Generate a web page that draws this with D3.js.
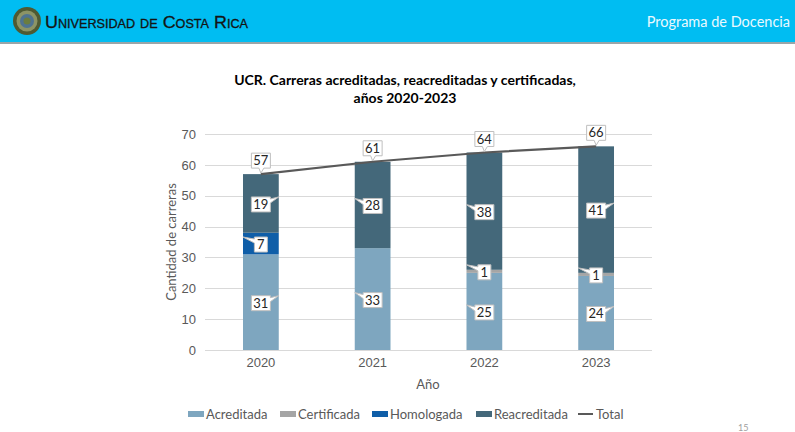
<!DOCTYPE html>
<html>
<head>
<meta charset="utf-8">
<script src="https://cdn.jsdelivr.net/npm/d3@7"></script>
<style>
  html, body { margin: 0; padding: 0; background: #fff; }
  svg { display: block; font-family: Lato, "Open Sans", sans-serif; }
  .grid line { stroke: #d9d9d9; stroke-width: 1; }
  .tick-label { fill: #595959; font-size: 13px; }
  .callout path { fill: #fff; stroke: #bfbfbf; stroke-width: 1; }
  .callout text { fill: #262626; font-size: 13px; }
</style>
</head>
<body>
<script>
  // datos
  const years = ['2020', '2021', '2022', '2023'];
  const acreditada = [31, 33, 25, 24];
  const certificada = [0, 0, 1, 1];
  const homologada = [7, 0, 0, 0];
  const reacreditada = [19, 28, 38, 41];
  const total = [57, 61, 64, 66];
  const yTicks = [0, 10, 20, 30, 40, 50, 60, 70];

  const seriesNames = ['Acreditada', 'Certificada', 'Homologada', 'Reacreditada'];
  const seriesValues = [acreditada, certificada, homologada, reacreditada];
  const colors = ['#7ea6bf', '#a5a5a5', '#0f5ea8', '#44687a'];
  // lado del puntero de cada etiqueta (por año, por serie)
  const pointerSide = [
    ['R', 'L', 'L', 'R'],
    ['L', 'L', 'L', 'L'],
    ['L', 'L', 'L', 'L'],
    ['R', 'L', 'L', 'R']
  ];

  const W = 795, H = 432;
  const svg = d3.select('body').append('svg').attr('width', W).attr('height', H);

  // encabezado
  svg.append('rect').attr('x', 0).attr('y', 0).attr('width', W).attr('height', 42).attr('fill', '#00bdf2');
  svg.append('rect').attr('x', 0).attr('y', 42).attr('width', W).attr('height', 2).attr('fill', '#9aa5a8');
  let logo = svg.append('g').attr('transform', 'translate(27,21)');
  logo.append('circle').attr('r', 14).attr('fill', '#4e5a33');
  logo.append('circle').attr('r', 10.5).attr('fill', '#8c9466');
  logo.append('circle').attr('r', 7).attr('fill', '#4f7390');
  logo.append('circle').attr('r', 3.5).attr('fill', '#6b7d3f');
  svg.append('text')
    .attr('x', 45).attr('y', 28)
    .attr('font-family', '"Liberation Sans", sans-serif')
    .attr('font-size', 17)
    .attr('font-variant', 'small-caps')
    .attr('fill', '#141414')
    .attr('stroke', '#141414').attr('stroke-width', 0.3)
    .attr('textLength', 203)
    .attr('lengthAdjust', 'spacingAndGlyphs')
    .text('Universidad de Costa Rica');
  svg.append('text')
    .attr('x', 790).attr('y', 27)
    .attr('text-anchor', 'end')
    .attr('font-size', 14.5)
    .attr('fill', '#eaf9ff')
    .text('Programa de Docencia');

  // titulo
  svg.append('text').attr('x', 405).attr('y', 85).attr('text-anchor', 'middle')
    .attr('font-weight', 'bold').attr('font-size', 14).attr('fill', '#000')
    .text('UCR. Carreras acreditadas, reacreditadas y certificadas,');
  svg.append('text').attr('x', 405).attr('y', 103).attr('text-anchor', 'middle')
    .attr('font-weight', 'bold').attr('font-size', 14).attr('fill', '#000')
    .text('años 2020-2023');

  // escalas
  let x = d3.scaleBand().domain(years).range([205, 652]).paddingInner(0.68).paddingOuter(0.34);
  let y = d3.scaleLinear().domain([0, 70]).range([350, 134]);
  let cx = function(yr) { return x(yr) + x.bandwidth() / 2; };

  // rejilla
  svg.append('g').attr('class', 'grid')
    .selectAll('line').data(yTicks).enter().append('line')
    .attr('x1', 205).attr('x2', 652)
    .attr('y1', function(d) { return Math.round(y(d)) + 0.5; })
    .attr('y2', function(d) { return Math.round(y(d)) + 0.5; });

  let yAxis = svg.append('g').attr('transform', 'translate(196,0)')
    .call(d3.axisLeft(y).tickValues(yTicks).tickSize(0).tickPadding(0));
  yAxis.select('.domain').remove();
  yAxis.selectAll('text').attr('class', 'tick-label').attr('font-family', null).attr('font-size', null);

  let xAxis = svg.append('g').attr('transform', 'translate(0,358)')
    .call(d3.axisBottom(x).tickSize(0).tickPadding(0));
  xAxis.select('.domain').remove();
  xAxis.selectAll('text').attr('class', 'tick-label').attr('font-family', null).attr('font-size', null)
    .attr('dy', '0.71em');

  svg.append('text').attr('class', 'tick-label')
    .attr('transform', 'translate(176,242) rotate(-90)')
    .attr('text-anchor', 'middle').text('Cantidad de carreras');
  svg.append('text').attr('class', 'tick-label')
    .attr('x', 428).attr('y', 389).attr('text-anchor', 'middle').text('Año');

  // barras apiladas
  let rows = years.map(function(yr, i) {
    let r = { year: yr };
    seriesNames.forEach(function(s, k) { r[s] = seriesValues[k][i]; });
    return r;
  });
  let stack = d3.stack().keys(seriesNames)(rows);

  let layers = svg.append('g').selectAll('g').data(stack).enter().append('g')
    .attr('fill', function(d, k) { return colors[k]; });
  layers.selectAll('rect').data(function(d) { return d; }).enter().append('rect')
    .attr('x', function(d) { return x(d.data.year); })
    .attr('width', x.bandwidth())
    .attr('y', function(d) { return y(d[1]); })
    .attr('height', function(d) { return y(d[0]) - y(d[1]); });

  // linea total
  svg.append('path').datum(total)
    .attr('fill', 'none').attr('stroke', '#595959').attr('stroke-width', 2.2)
    .attr('d', d3.line().x(function(d, i) { return cx(years[i]); }).y(function(d) { return y(d); }));

  // etiquetas tipo globo
  function boxW(t) { return String(t).length > 1 ? 19 : 13; }

  function sideCallout(g, t, cxp, cyp, side, edge) {
    let w = boxW(t), h = 15;
    let l = cxp - w / 2, r = cxp + w / 2, tp = cyp - h / 2, b = cyp + h / 2;
    let tipY = tp;
    let p;
    if (side === 'R') {
      p = 'M' + l + ',' + tp + 'H' + r + 'V' + (tp + 2) + 'L' + edge + ',' + tipY +
          'L' + r + ',' + (tp + 6) + 'V' + b + 'H' + l + 'Z';
    } else {
      p = 'M' + l + ',' + tp + 'H' + r + 'V' + b + 'H' + l + 'V' + (tp + 6) +
          'L' + edge + ',' + tipY + 'L' + l + ',' + (tp + 2) + 'Z';
    }
    let c = g.append('g').attr('class', 'callout');
    c.append('path').attr('d', p);
    c.append('text').attr('x', cxp).attr('y', cyp + 4.5).attr('text-anchor', 'middle').text(t);
  }

  let labels = svg.append('g');
  stack.forEach(function(layer, k) {
    layer.forEach(function(d, i) {
      let v = d[1] - d[0];
      if (!v) { return; }
      let yr = years[i];
      let side = pointerSide[i][k];
      let edge = side === 'R' ? x(yr) + x.bandwidth() : x(yr);
      sideCallout(labels, v, cx(yr), y((d[0] + d[1]) / 2) + 1, side, edge);
    });
  });

  total.forEach(function(v, i) {
    let px = cx(years[i]), py = y(v);
    let w = boxW(v), h = 15;
    let l = px - w / 2, r = px + w / 2, b = py - 6, tp = b - h;
    let p = 'M' + l + ',' + tp + 'H' + r + 'V' + b + 'H' + (px + 3) + 'L' + px + ',' + (py - 1) +
            'L' + (px - 2) + ',' + b + 'H' + l + 'Z';
    let c = labels.append('g').attr('class', 'callout');
    c.append('path').attr('d', p);
    c.append('text').attr('x', px).attr('y', tp + 12).attr('text-anchor', 'middle').text(v);
  });

  // leyenda
  let legendItems = [
    { name: 'Acreditada', x: 188, color: colors[0] },
    { name: 'Certificada', x: 280, color: colors[1] },
    { name: 'Homologada', x: 372, color: colors[2] },
    { name: 'Reacreditada', x: 476, color: colors[3] },
    { name: 'Total', x: 578, color: '#595959', line: true }
  ];
  let legend = svg.append('g').selectAll('g').data(legendItems).enter().append('g')
    .attr('transform', function(d) { return 'translate(' + d.x + ',414)'; });
  legend.each(function(d) {
    let g = d3.select(this);
    if (d.line) {
      g.append('line').attr('x1', 0).attr('x2', 15).attr('y1', 0).attr('y2', 0)
        .attr('stroke', d.color).attr('stroke-width', 2);
    } else {
      g.append('rect').attr('x', 0).attr('y', -3).attr('width', 16).attr('height', 6).attr('fill', d.color);
    }
    g.append('text').attr('class', 'tick-label').attr('x', 18).attr('y', 4.5).text(d.name);
  });

  svg.append('text').attr('x', 738).attr('y', 431).attr('font-size', 9).attr('fill', '#a0a0a0').text('15');
</script>
</body>
</html>
